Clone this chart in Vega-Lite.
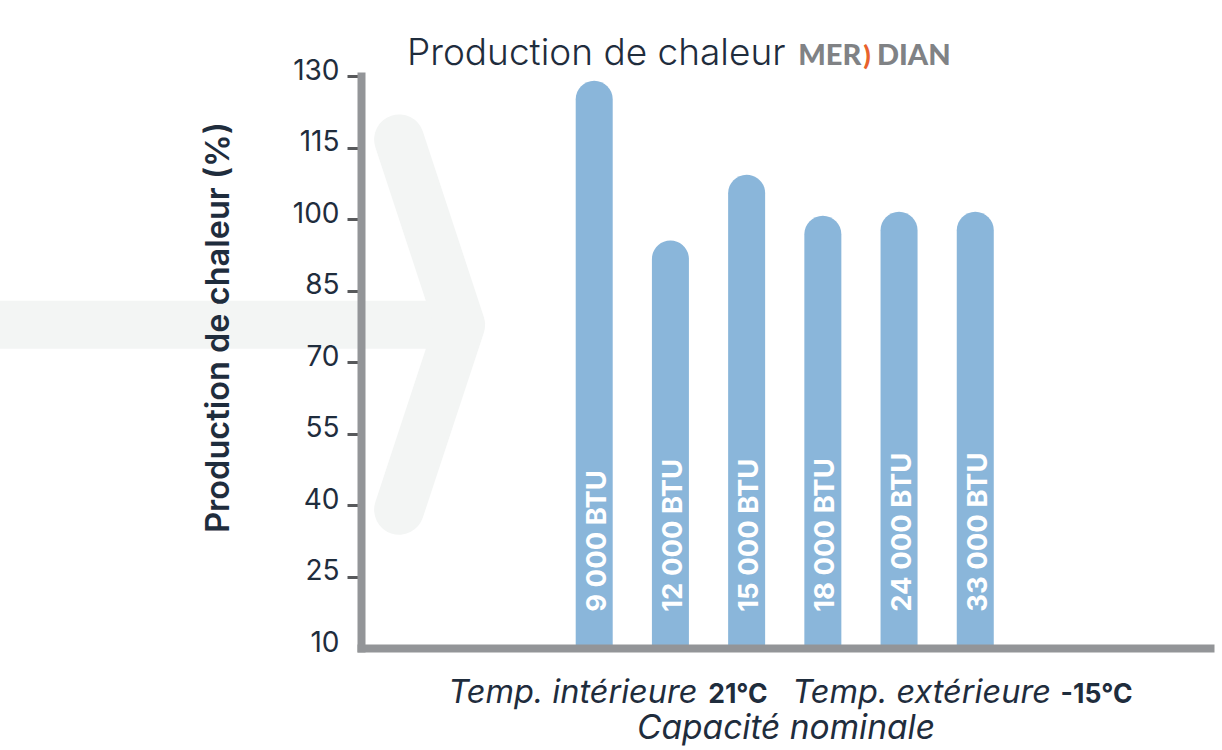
{
"$schema":"https://vega.github.io/schema/vega-lite/v6.json",
"autosize":{"type":"none"},
"padding":{"left":361,"top":76,"right":12,"bottom":102},
"width":849,"height":572,
"background":"white",
"title":{"text":"Production de chaleur","anchor":"start","frame":"group","dx":46,"offset":-31,"font":"Inter","fontWeight":300,"fontSize":37,"color":"#1f2d3d"},
"config":{"view":{"stroke":null}},
"layer":[
{"data":{"values":[{"rang":-7.5,"production":77.8},{"rang":-1.0,"production":77.8}]},
 "mark":{"type":"line","stroke":"#f3f5f4","strokeWidth":48,"clip":false},
 "encoding":{"x":{"field":"rang","type":"quantitative","scale":{"domain":[-2.06,9.08],"nice":false,"zero":false,"padding":0},
   "axis":{"orient":"bottom","title":"Capacité nominale","titleFont":"Inter","titleFontStyle":"italic","titleFontWeight":400,"titleFontSize":33.5,"titleColor":"#1f2d3d","titlePadding":64,"labels":false,"ticks":false,"grid":false,"domainColor":"#939598","domainWidth":8,"domainCap":"square","zindex":1}},
  "y":{"field":"production","type":"quantitative","scale":{"domain":[10,130],"nice":false,"zero":false},
   "axis":{"title":"Production de chaleur (%)","titleFont":"Inter","titleFontWeight":600,"titleFontSize":32.5,"titleColor":"#1f2d3d","titleX":-126,"titleY":251,"titleAlign":"center","values":[10,25,40,55,70,85,100,115,130],"grid":false,"domainColor":"#939598","domainWidth":8,"domainCap":"square","tickColor":"#58595b","tickWidth":3,"tickSize":14,"tickOpacity":{"condition":{"test":"datum.value==10","value":0},"value":1},"labelFont":"Inter","labelFontSize":28,"labelColor":"#1f2d3d","labelPadding":8,"labelOffset":-5,"zindex":1}}}},
{"data":{"values":[{"rang":-1.56,"production":116.7,"o":1},{"rang":-0.76,"production":77.8,"o":2},{"rang":-1.56,"production":39,"o":3}]},
 "mark":{"type":"line","stroke":"#f3f5f4","strokeWidth":50,"strokeCap":"round","strokeJoin":"round","clip":false},
 "encoding":{"x":{"field":"rang","type":"quantitative"},"y":{"field":"production","type":"quantitative"},"order":{"field":"o"}}},
{"data":{"values":[
 {"capacite":"9 000 BTU","rang":1,"production":129},
 {"capacite":"12 000 BTU","rang":2,"production":95.5},
 {"capacite":"15 000 BTU","rang":3,"production":109.3},
 {"capacite":"18 000 BTU","rang":4,"production":100.7},
 {"capacite":"24 000 BTU","rang":5,"production":101.5},
 {"capacite":"33 000 BTU","rang":6,"production":101.5}]},
 "layer":[
 {"mark":{"type":"bar","size":37,"color":"#8ab6da","cornerRadiusTopLeft":18.5,"cornerRadiusTopRight":18.5},
  "encoding":{"x":{"field":"rang","type":"quantitative"},"y":{"field":"production","type":"quantitative"},"y2":{"datum":10}}},
 {"mark":{"type":"text","angle":270,"align":"left","baseline":"middle","dy":3.5,"font":"Inter","fontWeight":700,"fontSize":27.5,"color":"white"},
  "encoding":{"x":{"field":"rang","type":"quantitative"},"y":{"datum":17.6},"text":{"field":"capacite"}}}
 ]},
{"data":{"values":[{"rang":-0.915,"production":-1.45,"t":"Temp. intérieure"},{"rang":3.6,"production":-1.45,"t":"Temp. extérieure"}]},
 "mark":{"type":"text","align":"left","baseline":"alphabetic","font":"Inter","fontStyle":"italic","fontSize":32.5,"color":"#1f2d3d","clip":false},
 "encoding":{"x":{"field":"rang","type":"quantitative"},"y":{"field":"production","type":"quantitative"},"text":{"field":"t"}}},
{"data":{"values":[{"rang":2.496,"production":-1.45,"t":"21°C"},{"rang":7.12,"production":-1.45,"t":"-15°C"}]},
 "mark":{"type":"text","align":"left","baseline":"alphabetic","font":"Inter","fontWeight":700,"fontSize":26.5,"color":"#1f2d3d","clip":false},
 "encoding":{"x":{"field":"rang","type":"quantitative"},"y":{"field":"production","type":"quantitative"},"text":{"field":"t"}}},
{"data":{"values":[{"rang":3.677,"production":132.4,"t":"MER"},{"rang":4.71,"production":132.4,"t":"DIAN"}]},
 "mark":{"type":"text","align":"left","baseline":"alphabetic","font":"Lato","fontWeight":900,"fontSize":29,"color":"#808285","clip":false},
 "encoding":{"x":{"field":"rang","type":"quantitative"},"y":{"field":"production","type":"quantitative"},"text":{"field":"t"}}},
{"data":{"values":[{"rang":4.53,"production":132.4,"t":")"}]},
 "mark":{"type":"text","align":"left","baseline":"alphabetic","font":"Lato","fontWeight":900,"fontSize":27,"color":"#e8622c","clip":false},
 "encoding":{"x":{"field":"rang","type":"quantitative"},"y":{"field":"production","type":"quantitative"},"text":{"field":"t"}}}
]
}
